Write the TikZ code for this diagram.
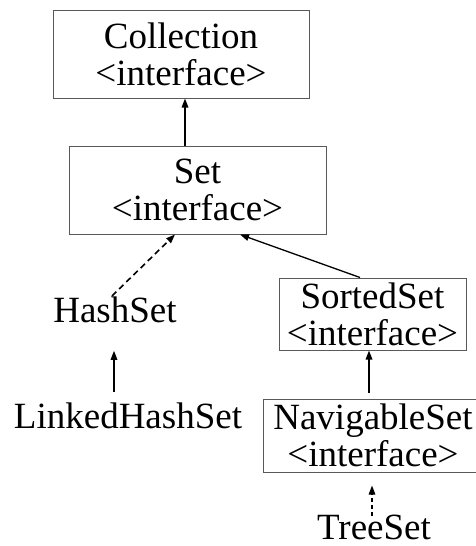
\documentclass[tikz,border=0pt]{standalone}
\usepackage{fontspec}
\setmainfont{Liberation Serif}
\usetikzlibrary{arrows.meta}

\begin{document}
\begin{tikzpicture}[x=1pt,y=-1pt,thick,
  tip/.style={-{Triangle[length=9pt,width=6.5pt]},line width=1.6pt}]

    % `iface' will be used by the interface boxes.
    % `klass' will refer to plain class names.
    \tikzstyle{iface} = [draw=black!65,line width=1pt,align=center,inner sep=0pt,font=\fontsize{37}{37}\selectfont]
    \tikzstyle{klass} = [inner sep=0pt,anchor=base,font=\fontsize{37}{37}\selectfont]
    %
    \useasboundingbox (0,0) rectangle (475,546);

    % Interfaces.
    \node[iface,minimum width=256pt,minimum height=88pt] (coll) at (181,54)
      {Collection\\\textless{}interface\textgreater{}};
    \node[iface,minimum width=257pt,minimum height=88pt] (set) at (197.5,190)
      {Set\\\textless{}interface\textgreater{}};
    \node[iface,minimum width=187pt,minimum height=72pt] (sorted) at (372.5,314)
      {SortedSet\\\textless{}interface\textgreater{}};
    \node[iface,minimum width=220pt,minimum height=73pt] (nav) at (373,435.5)
      {NavigableSet\\\textless{}interface\textgreater{}};

    % Classes.
    \node[klass] (hash) at (115,322) {HashSet};
    \node[klass] (linked) at (128,428) {LinkedHashSet};
    \node[klass] (tree) at (374,539) {TreeSet};

    % Draw lines.
    \draw[tip] ([xshift=-12.5pt]set.north) -- ([xshift=-12.5pt]set.north |- coll.south);
    \draw[tip,dash pattern=on 6pt off 4pt] ([xshift=-3pt]hash.north) -- ([xshift=-22.5pt]set.south);
    \draw[tip,line width=1.3pt] ([xshift=-12.5pt]sorted.north) -- ([xshift=42.5pt]set.south);
    \draw[tip,shorten <=10pt,shorten >=28pt] ([xshift=-1pt]hash.south |- linked.north) -- ([xshift=-1pt]hash.south);
    \draw[tip,shorten <=6pt] ([xshift=-4pt]nav.north) -- ([xshift=-4pt]nav.north |- sorted.south);
    \draw[tip,line width=1.3pt,dash pattern=on 4pt off 3pt,shorten <=-2pt,shorten >=13pt] ([xshift=-2pt]tree.north) -- ([xshift=-2pt]tree.north |- nav.south);
    %
\end{tikzpicture}
\end{document}
